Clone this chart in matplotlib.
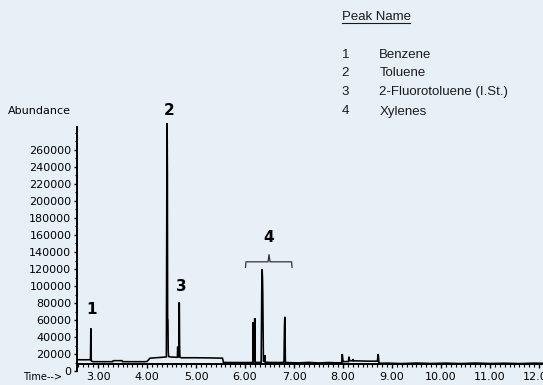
import matplotlib
matplotlib.use("Agg")
import matplotlib.pyplot as plt
from matplotlib.lines import Line2D
from matplotlib.ticker import MultipleLocator, FixedLocator

# ---- chromatogram trace (retention time in min, abundance) ----
trace_time = [
    2.571, 2.700, 2.840,
    2.846, 2.850, 2.853, 2.857, 2.861, 2.868,          # benzene
    2.900, 3.300, 3.310, 3.490, 3.500, 3.950, 4.000, 4.060,
    4.300, 4.395, 4.405, 4.411, 4.416, 4.421, 4.427, 4.433, 4.440,  # toluene
    4.470, 4.600, 4.620, 4.626, 4.632, 4.650, 4.656, 4.660, 4.665, 4.672,  # 2-fluorotoluene
    4.700, 5.000, 5.300, 5.540, 5.560, 5.800, 6.100,
    6.160, 6.168, 6.176, 6.190, 6.198, 6.206, 6.214,     # xylenes
    6.330, 6.342, 6.350, 6.357, 6.362, 6.368, 6.376, 6.400, 6.406, 6.414,
    6.500, 6.700, 6.795, 6.805, 6.812, 6.818, 6.824, 6.832,
    6.900, 7.100, 7.300, 7.500, 7.700, 7.900,
    7.975, 7.985, 7.992, 8.000, 8.010, 8.110, 8.122, 8.130, 8.140, 8.200, 8.206, 8.215,
    8.300, 8.500, 8.700, 8.718, 8.726, 8.734, 8.745,
    8.900, 9.200, 9.500, 9.800, 10.100, 10.400, 10.700, 11.000, 11.300, 11.600, 11.900, 12.082,
]
trace_abundance = [
    13700, 13600, 13700,
    13700, 34000, 50500, 33000, 14000, 12000,
    11400, 11400, 12600, 12600, 11400, 11400, 11600, 15500,
    16500, 17000, 232000, 291000, 232000, 62600, 60000, 25000, 17500,
    17000, 16500, 17000, 29000, 17000, 17000, 81000, 80000, 30000, 16500,
    16000, 16000, 15800, 15500, 10500, 10400, 10400,
    10500, 58000, 11500, 11000, 62500, 12000, 10500,
    10600, 95500, 119700, 110000, 95000, 60000, 12000, 11500, 19000, 10800,
    10500, 10400, 10600, 52000, 64000, 50000, 12000, 10500,
    10300, 10000, 10600, 9900, 10400, 10100,
    10200, 20400, 17000, 11000, 11500, 11500, 17200, 14000, 12500, 12500, 14500, 12400,
    12300, 12000, 12000, 20400, 16000, 9800, 9600,
    9700, 9200, 9800, 9300, 9700, 9200, 9800, 9300, 9600, 9200, 9700, 9500,
]

# ---- peak annotations ----
peak_labels = ["1", "2", "3", "4"]
peak_label_time = [2.87, 4.455, 4.69, 6.49]
peak_label_height = [73000, 306000, 100000, 157000]

# bracket spanning the xylene group
bracket_time = [6.01, 6.02, 6.47, 6.49, 6.51, 6.95, 6.96]
bracket_height = [122000, 128500, 128500, 137000, 128500, 128500, 122000]

# ---- peak name table ----
legend_numbers = ["1", "2", "3", "4"]
legend_names = ["Benzene", "Toluene", "2-Fluorotoluene (I.St.)", "Xylenes"]

y_ticks = [0, 20000, 40000, 60000, 80000, 100000, 120000, 140000, 160000,
           180000, 200000, 220000, 240000, 260000]
x_ticks = [3, 4, 5, 6, 7, 8, 9, 10, 11, 12]
x_tick_labels = ["3.00", "4.00", "5.00", "6.00", "7.00", "8.00", "9.00",
                 "10.00", "11.00", "12.00"]

BG = "#e8f0f7"
W, H = 543, 385

fig = plt.figure(figsize=(W / 100, H / 100), dpi=100, facecolor=BG)
ax = fig.add_axes([77 / W, (H - 371.4) / H, (W - 77) / W, (371.4 - 127) / H])
ax.set_facecolor(BG)
ax.set_xlim(2.571, 12.082)
ax.set_ylim(0, 286600)

ax.plot(trace_time, trace_abundance, color="black", lw=1.15, clip_on=False,
        solid_joinstyle="miter")

for lab, t, h in zip(peak_labels, peak_label_time, peak_label_height):
    ax.text(t, h, lab, ha="center", va="center", fontsize=11,
            fontweight="bold", family="DejaVu Sans", clip_on=False)

ax.plot(bracket_time, bracket_height, color="#333333", lw=0.9, clip_on=False)

# axes styling
for s in ("top", "right"):
    ax.spines[s].set_visible(False)
ax.spines["bottom"].set_position(("data", 8700))
ax.spines["left"].set_bounds(0, 286600)
for s in ("left", "bottom"):
    ax.spines[s].set_linewidth(1.4)

tick_font = dict(family="DejaVu Sans", size=8)
ax.yaxis.set_major_locator(FixedLocator(y_ticks))
ax.set_yticklabels([str(v) for v in y_ticks], **tick_font)
ax.yaxis.set_minor_locator(MultipleLocator(10000))
ax.xaxis.set_major_locator(FixedLocator(x_ticks))
ax.set_xticklabels(x_tick_labels, **tick_font)
ax.xaxis.set_minor_locator(MultipleLocator(0.1))
ax.tick_params(axis="y", which="major", direction="out", length=2.5, width=1, pad=1.5)
ax.tick_params(axis="y", which="minor", direction="out", length=1.5, width=0.8)
ax.tick_params(axis="x", which="major", direction="out", length=3, width=1, pad=3)
ax.tick_params(axis="x", which="minor", direction="out", length=2, width=0.8)

fig.text(8 / W, 1 - 111 / H, "Abundance", ha="left", va="center",
         family="DejaVu Sans", fontsize=8)
fig.text(23 / W, 1 - 377 / H, "Time-->", ha="left", va="center",
         family="DejaVu Sans", fontsize=7)

# peak name table
leg_font = dict(family="Liberation Sans", fontsize=9.5, color="#1a1a1a")
fig.text(341.7 / W, 1 - 16.7 / H, "Peak Name", ha="left", va="center", **leg_font)
fig.add_artist(Line2D([341.7 / W, 410 / W], [1 - 23 / H, 1 - 23 / H],
                      color="#1a1a1a", lw=0.8))
row_y = [55, 73.5, 92.3, 111.5]
for num, name, y in zip(legend_numbers, legend_names, row_y):
    fig.text(341.5 / W, 1 - y / H, num, ha="left", va="center", **leg_font)
    fig.text(379.3 / W, 1 - y / H, name, ha="left", va="center", **leg_font)

fig.savefig("out.png", dpi=100, facecolor=BG)
